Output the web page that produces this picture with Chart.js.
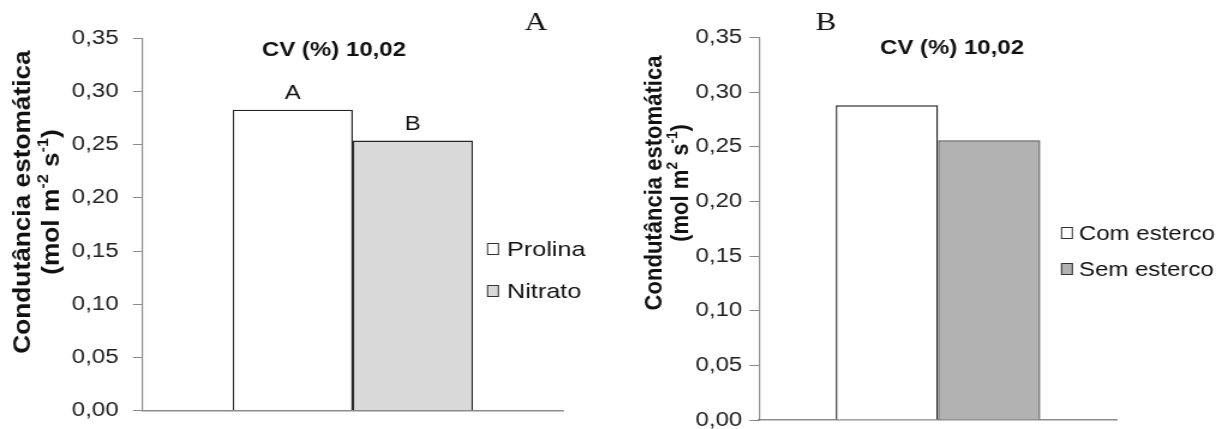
<!DOCTYPE html>
<html>
<head>
<meta charset="utf-8">
<script src="https://cdn.jsdelivr.net/npm/chart.js@4/dist/chart.umd.min.js"></script>
<style>
html, body { margin: 0; padding: 0; background: #fff; width: 1223px; height: 429px; overflow: hidden; }
/* the original figure is stretched sideways, so each panel is drawn narrow and widened */
.panel { position: absolute; top: 0; transform: scaleX(1.2); transform-origin: 0 0; }
</style>
</head>
<body>
<div class="panel" style="left:0px"><canvas id="chartA" width="508" height="450"></canvas></div>
<div class="panel" style="left:610px"><canvas id="chartB" width="511" height="450"></canvas></div>
<script>
const categories = [''];

// panel A: proline vs nitrate
const seriesA = ['Prolina', 'Nitrato'];
const valuesA = [0.283, 0.254];
const lettersA = ['A', 'B'];

// panel B: with / without manure
const seriesB = ['Com esterco', 'Sem esterco'];
const valuesB = [0.288, 0.256];

const yMin = 0, yMax = 0.35, yStep = 0.05;
const cvText = 'CV (%) 10,02';

const FONT = "'Liberation Sans', Arial, sans-serif";

// rotated axis title with superscripts, panel letters, CV, significance letters, legend
const annotate = {
    id: 'annotate',
    afterDraw(chart, args, o) {
        const ctx = chart.ctx;
        ctx.save();
        ctx.fillStyle = '#111';

        // y axis title
        ctx.save();
        ctx.translate(o.titleX[0], o.titleY);
        ctx.rotate(-Math.PI / 2);
        ctx.scale(o.titleStretch, 1);
        ctx.textBaseline = 'alphabetic';
        ctx.textAlign = 'center';
        ctx.font = 'bold 21px ' + FONT;
        ctx.fillText('Condutância estomática', 0, 0);
        ctx.restore();

        ctx.save();
        ctx.translate(o.titleX[1], o.titleY);
        ctx.rotate(-Math.PI / 2);
        ctx.scale(o.titleStretch, 1);
        ctx.textBaseline = 'alphabetic';
        ctx.textAlign = 'left';
        const big = 'bold 21px ' + FONT, small = 'bold 13px ' + FONT;
        let w = 0;
        o.unit.forEach(p => { ctx.font = p.sup ? small : big; w += ctx.measureText(p.t).width; });
        let x = -w / 2;
        o.unit.forEach(p => {
            ctx.font = p.sup ? small : big;
            ctx.fillText(p.t, x, p.sup ? -9 : 0);
            x += ctx.measureText(p.t).width;
        });
        ctx.restore();

        ctx.textAlign = 'center';
        ctx.textBaseline = 'middle';

        ctx.font = "26px 'Liberation Serif', 'Times New Roman', serif";
        ctx.fillText(o.panel, o.panelX, 23.5);

        ctx.font = 'bold 20px ' + FONT;
        ctx.fillText(cvText, o.cvX, o.cvY);

        ctx.font = '20px ' + FONT;
        (o.letters || []).forEach((l, i) => {
            const bar = chart.getDatasetMeta(i).data[0];
            ctx.fillText(l, bar.x, bar.y - 16);
        });

        // legend
        ctx.textAlign = 'left';
        ctx.font = o.legendFont;
        chart.data.datasets.forEach((ds, i) => {
            const y = o.legendY[i];
            ctx.fillStyle = ds.backgroundColor;
            ctx.fillRect(o.legendX, y - 6, 10, 12);
            ctx.strokeStyle = '#333';
            ctx.lineWidth = 1;
            ctx.strokeRect(o.legendX + 0.5, y - 5.5, 9, 11);
            ctx.fillStyle = '#111';
            ctx.fillText(ds.label, o.legendX + o.legendGap, y + 1);
        });
        ctx.restore();
    }
};

function makeChart(id, names, values, fills, borders, c) {
    return new Chart(document.getElementById(id), {
        type: 'bar',
        data: {
            labels: categories,
            datasets: names.map((n, i) => ({
                label: n,
                data: [values[i]],
                backgroundColor: fills[i],
                borderColor: borders[i],
                borderWidth: 1.4,
                categoryPercentage: 2 / 3.5,
                barPercentage: 1
            }))
        },
        options: {
            responsive: false,
            animation: false,
            devicePixelRatio: 1,
            layout: { padding: c.padding },
            plugins: {
                legend: { display: false },
                tooltip: { enabled: false },
                annotate: c.annotate
            },
            scales: {
                x: {
                    ticks: { display: false },
                    grid: { display: false },
                    border: { display: true, color: '#8c8c8c', width: 1.5 },
                    afterFit(scale) { scale.height = 0; }
                },
                y: {
                    min: yMin,
                    max: yMax,
                    ticks: {
                        stepSize: yStep,
                        color: '#222',
                        padding: c.tickPad,
                        font: { family: FONT, size: 20 },
                        callback: v => v.toFixed(2).replace('.', ',')
                    },
                    grid: { drawOnChartArea: false, drawTicks: true, tickLength: 8, color: '#8c8c8c' },
                    border: { color: '#8c8c8c', width: 1.2 },
                    afterFit(scale) { scale.width = c.axisLeft; }
                }
            }
        },
        plugins: [annotate]
    });
}

makeChart('chartA', seriesA, valuesA, ['#ffffff', '#d9d9d9'], ['#262626', '#262626'], {
    padding: { left: 0, right: 38.8, top: 38.5, bottom: 39.5 },
    axisLeft: 118.75,
    tickPad: 12,
    annotate: {
        titleX: [25, 48.5], titleY: 202, titleStretch: 1.25,
        unit: [{ t: '(mol m' }, { t: '-2', sup: true }, { t: ' s' }, { t: '-1', sup: true }, { t: ')' }],
        panel: 'A', panelX: 446.7,
        cvX: 278.3, cvY: 50.5,
        letters: lettersA,
        legendX: 405.8, legendY: [249, 291], legendGap: 16.7, legendFont: '21px ' + FONT
    }
});

makeChart('chartB', seriesB, valuesB, ['#ffffff', '#b2b2b2'], ['#262626', '#595959'], {
    padding: { left: 0, right: 88.5, top: 37.5, bottom: 30 },
    axisLeft: 124.2,
    tickPad: 6,
    annotate: {
        titleX: [43.3, 65], titleY: 183, titleStretch: 1.05,
        unit: [{ t: '(mol m' }, { t: '2', sup: true }, { t: ' s' }, { t: '-1', sup: true }, { t: ')' }],
        panel: 'B', panelX: 180,
        cvX: 285, cvY: 48,
        letters: [],
        legendX: 375.8, legendY: [233, 269], legendGap: 15, legendFont: '20px ' + FONT
    }
});
</script>
</body>
</html>
